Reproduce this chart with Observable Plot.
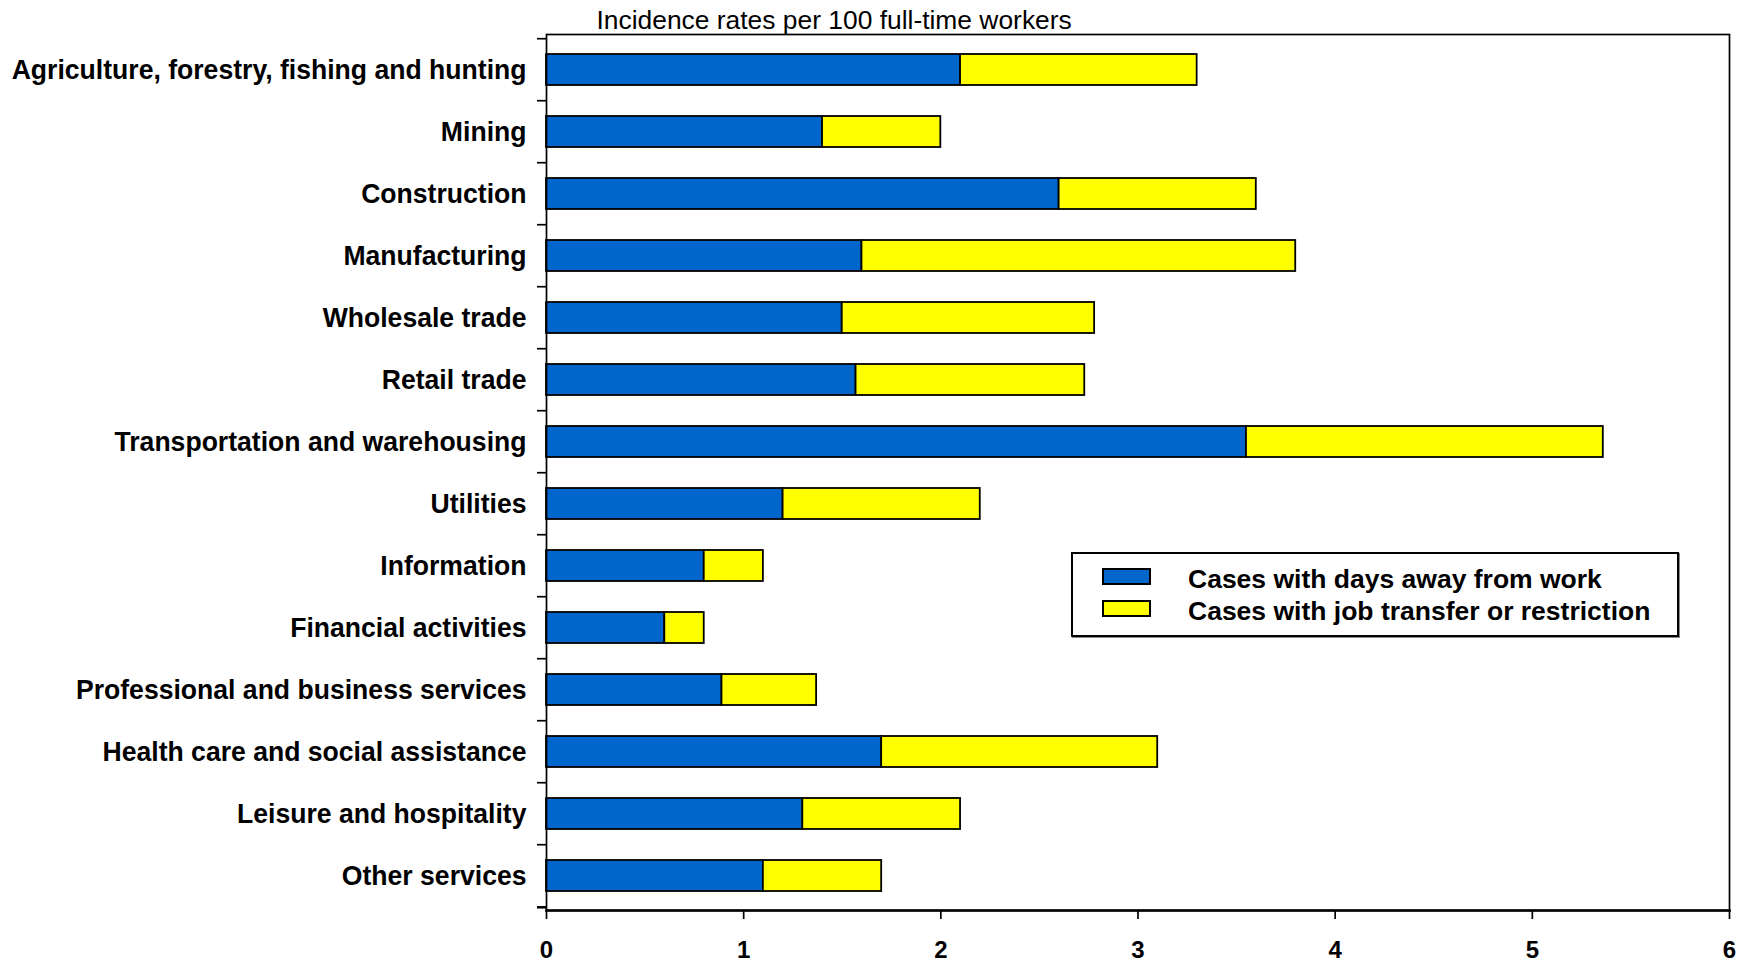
<!DOCTYPE html>
<html><head><meta charset="utf-8">
<script src="https://cdn.jsdelivr.net/npm/d3@7"></script>
<script src="https://cdn.jsdelivr.net/npm/@observablehq/plot@0.6"></script>
<style>
body{margin:0;background:#fff;}
#wrap{position:relative;width:1746px;height:963px;overflow:hidden;background:#fff}
.legend{position:absolute;left:1071px;top:552px;width:608px;height:85px;border:2px solid #000;background:#fff;box-sizing:border-box;
  box-shadow:1px 1px 0 #888;font-family:'Liberation Sans',Arial,sans-serif;font-weight:bold;font-size:26.5px;color:#000}
.legend .sw{position:absolute;left:29px;width:45px;height:13px;border:2px solid #000;box-sizing:content-box}
.legend .lab{position:absolute;left:115px;white-space:nowrap;line-height:30px;height:30px}
</style></head>
<body><div id="wrap"></div>
<script>
const categories = [
  "Agriculture, forestry, fishing and hunting",
  "Mining",
  "Construction",
  "Manufacturing",
  "Wholesale trade",
  "Retail trade",
  "Transportation and warehousing",
  "Utilities",
  "Information",
  "Financial activities",
  "Professional and business services",
  "Health care and social assistance",
  "Leisure and hospitality",
  "Other services"
];
const daysAway    = [2.1, 1.4, 2.6, 1.6, 1.5, 1.57, 3.55, 1.2, 0.8, 0.6, 0.89, 1.7, 1.3, 1.1];
const jobTransfer = [1.2, 0.6, 1.0, 2.2, 1.28, 1.16, 1.81, 1.0, 0.3, 0.2, 0.48, 1.4, 0.8, 0.6];
const seriesNames = ["Cases with days away from work", "Cases with job transfer or restriction"];
const seriesColors = ["#0066CC", "#FFFF00"];
const xTicks = [0, 1, 2, 3, 4, 5, 6];
const titleText = "Incidence rates per 100 full-time workers";

const rows = categories.flatMap((c, i) => [
  {category: c, series: seriesNames[0], value: daysAway[i]},
  {category: c, series: seriesNames[1], value: jobTransfer[i]}
]);

const W = 1746, H = 963, mL = 546, mR = 17, mT = 34, mB = 53;
const pInner = 0.5, pOuter = 0.25;
const step = (H - mT - mB) / (categories.length - pInner + 2 * pOuter);
const labelFont = "'Liberation Sans', Arial, sans-serif";

const chart = Plot.plot({
  width: W, height: H,
  marginLeft: mL, marginRight: mR, marginTop: mT, marginBottom: mB,
  style: {fontFamily: labelFont, background: "#fff", overflow: "visible", color: "#000"},
  x: {domain: [0, 6]},
  y: {domain: categories, paddingInner: pInner, paddingOuter: pOuter},
  color: {domain: seriesNames, range: seriesColors},
  marks: [
    Plot.barX(rows, Plot.stackX({y: "category", x: "value", fill: "series", stroke: "#000", strokeWidth: 1.8})),
    Plot.frame({stroke: "#000", strokeWidth: 1.7}),
    Plot.frame({anchor: "bottom", stroke: "#000", strokeWidth: 2.6}),
    Plot.axisY({tickSize: 9, text: null, dy: -step / 2, strokeWidth: 1.7, label: null}),
    Plot.axisY([categories[categories.length - 1]], {tickSize: 9, text: null, dy: step / 2, strokeWidth: 2.6, label: null}),
    Plot.axisY({tickSize: 0, tickPadding: 20, fontSize: 27, fontWeight: "bold", label: null}),
    Plot.axisX({ticks: xTicks, tickFormat: "d", tickSize: 9, tickPadding: 21, fontSize: 24, fontWeight: "bold", strokeWidth: 1.7, label: null}),
    Plot.text([titleText], {frameAnchor: "top-left", dx: 50, dy: -6, textAnchor: "start", lineAnchor: "bottom", fontSize: 26.4})
  ]
});

// slightly narrow the bold category labels
function condense(selector, s) {
  chart.querySelectorAll(selector).forEach(t => {
    const tr = t.getAttribute("transform");
    if (tr) {
      t.setAttribute("transform", tr + ` scale(${s},1)`);
    } else {
      const x = +t.getAttribute("x") || 0;
      t.removeAttribute("x");
      t.setAttribute("transform", `translate(${x},0) scale(${s},1)`);
    }
  });
}
condense('g[aria-label="y-axis tick label"] text', 0.985);

const wrap = document.getElementById("wrap");
wrap.appendChild(chart);

const legend = document.createElement("div");
legend.className = "legend";
seriesNames.forEach((name, i) => {
  const sw = document.createElement("div");
  sw.className = "sw";
  sw.style.top = (14 + i * 31.5) + "px";
  sw.style.background = seriesColors[i];
  const lab = document.createElement("span");
  lab.className = "lab";
  lab.style.top = (10 + i * 31.5) + "px";
  lab.textContent = name;
  legend.appendChild(sw);
  legend.appendChild(lab);
});
wrap.appendChild(legend);
</script>
</body></html>
